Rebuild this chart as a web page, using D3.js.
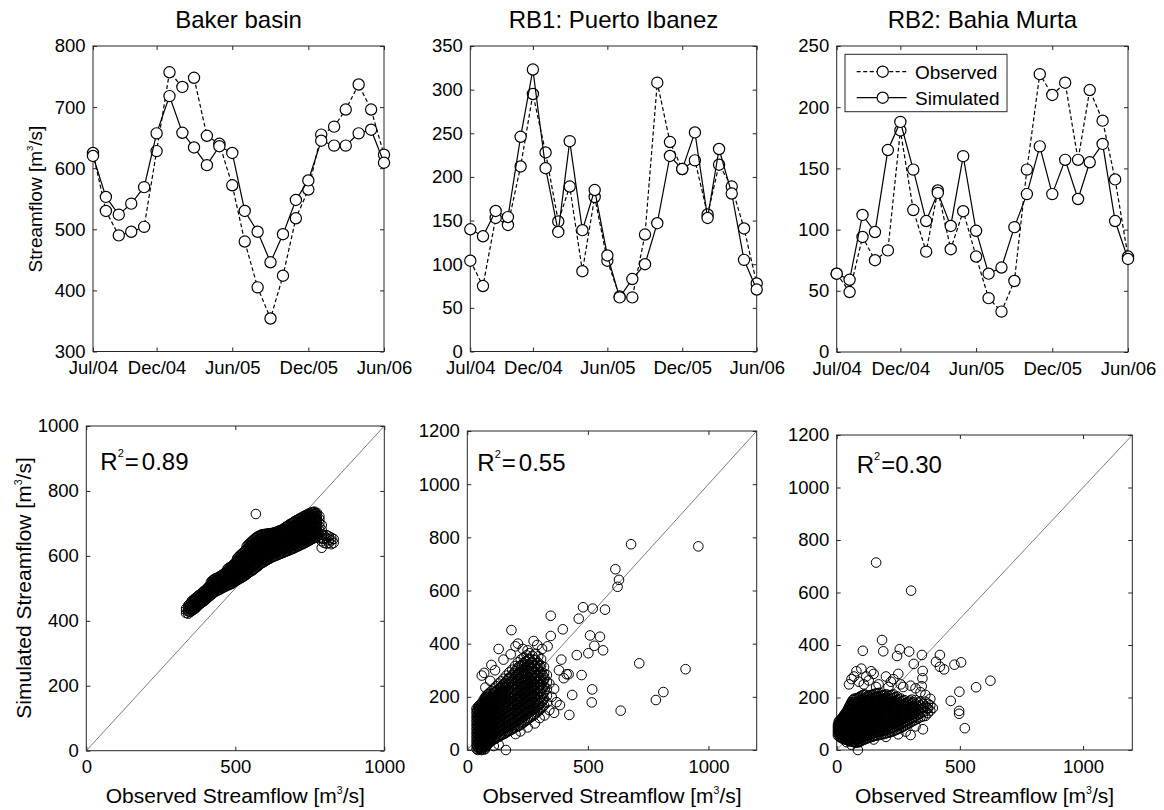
<!DOCTYPE html>
<html>
<head>
<meta charset="utf-8">
<script src="https://cdn.jsdelivr.net/npm/d3@7"></script>
<style>
  body { margin: 0; background: #fff; }
  text { font-family: "Liberation Sans", Arial, Helvetica, sans-serif; fill: #000; }
</style>
</head>
<body>
<svg id="chart" width="1164" height="810"></svg>
<script>
// ---- data ----
const months = ["2004-07","2004-08","2004-09","2004-10","2004-11","2004-12",
                "2005-01","2005-02","2005-03","2005-04","2005-05","2005-06",
                "2005-07","2005-08","2005-09","2005-10","2005-11","2005-12",
                "2006-01","2006-02","2006-03","2006-04","2006-05","2006-06"];
const timeTicks = ["2004-07","2004-12","2005-06","2005-12","2006-06"];

const bakerObs = [625,530,490,496,504,628,757,733,748,653,640,572,480,405,354,424,518,565,655,668,696,737,696,622];
const bakerSim = [620,553,524,542,569,657,718,658,634,605,636,625,530,496,446,492,548,580,645,637,637,657,663,609];
const rb1Obs = [104,75,153,145,212,295,228,149,189,92,177,104,63,62,134,308,240,209,219,157,214,189,141,78];
const rb1Sim = [140,132,161,154,246,323,210,137,241,139,185,110,62,83,100,147,224,209,251,153,232,181,105,71];
const rb2Obs = [64,49,94,75,83,181,116,82,132,84,115,78,44,33,58,149,227,210,220,157,214,189,141,78];
const rb2Sim = [64,59,112,98,165,188,149,107,130,103,160,99,64,69,102,129,168,129,157,125,155,170,107,76];

const titles = ["Baker basin", "RB1: Puerto Ibanez", "RB2: Bahia Murta"];
const bakerTicks = [300,400,500,600,700,800];
const rb1Ticks = [0,50,100,150,200,250,300,350];
const rb2Ticks = [0,50,100,150,200,250];

// scatter: daily observed vs simulated, [observed, [simulated values at that observed]]
const bakerCloud = [
  [335,[424,432,438]],[342,[422,430,441,447]],[350,[428,436,445,452]],
  [358,[433,441,450,458,463]],[366,[438,447,455,463,470]],[374,[446,452,461,468,476]],
  [382,[452,459,467,474,481]],[390,[458,465,473,480,488]],[398,[463,471,479,486,493]],
  [406,[470,477,485,493,501]],[414,[476,484,492,500,508]],[422,[482,490,499,507,516,523]],
  [430,[488,496,505,513,521,529]],[438,[492,500,509,517,525,532]],[446,[495,504,512,520,528,536]],
  [454,[500,508,516,524,532,540]],[462,[503,511,520,529,537,546]],[470,[507,515,524,533,542,551]],
  [478,[510,519,528,537,546,555,563]],[486,[513,522,531,541,550,559,567]],[494,[518,527,536,546,555,564,573]],
  [502,[523,532,542,552,561,571,581]],[510,[527,537,547,557,567,577,588,596]],[518,[531,541,551,562,572,582,593,603]],
  [526,[535,545,556,567,577,588,599,610]],[534,[540,550,561,572,583,594,605,616]],[542,[546,557,568,579,590,601,612,624,633]],
  [550,[551,562,573,584,596,607,618,630,640]],[558,[556,567,579,590,602,613,625,636,647]],[566,[561,572,584,596,607,619,631,642,654]],
  [574,[567,578,590,601,613,625,637,648,659]],[582,[573,584,595,607,619,630,642,653,663]],[590,[578,589,600,611,623,634,645,656,666]],
  [598,[582,593,604,615,626,637,648,658,667]],[606,[587,598,608,619,630,640,651,661,668]],[614,[591,601,612,622,633,643,653,662,669]],
  [622,[595,605,615,626,636,646,656,664,670]],[630,[598,608,618,628,638,648,658,666,672]],[638,[601,611,621,631,641,651,660,668,674]],
  [646,[604,614,624,634,644,654,663,671,677]],[654,[607,617,627,637,647,657,666,674,680]],[662,[610,620,630,640,650,660,669,677,684]],
  [670,[613,623,633,643,653,663,672,681,689]],[678,[616,626,636,646,656,666,676,685,694]],[686,[619,629,639,649,659,669,679,689,699]],
  [694,[622,632,642,652,662,672,682,692,703]],[702,[626,636,646,656,666,676,687,697,708]],[710,[629,639,649,659,670,680,691,701,712]],
  [718,[633,643,653,663,674,684,695,706,716]],[726,[636,646,656,667,677,688,699,710,720]],[734,[640,650,660,671,681,692,703,714,724]],
  [742,[644,654,664,675,686,697,708,719,728]],[750,[648,658,668,679,690,701,712,722,731]],[758,[652,662,672,683,694,705,716,726,734]],
  [766,[656,666,677,688,699,710,720,729,736]],[774,[660,671,682,693,704,714,724,732]],[782,[655,666,678,690,702,713,722]],
  [790,[645,655,665,680,695]],[798,[640,652,662]],[806,[638,655,664]],[814,[640,650,660]],[822,[636,648,656]],[830,[640,652]],
  [569,[729]],[790,[625]],
  [346,[427,436,444,451]],[354,[431,439,448,456,461]],[362,[436,444,452,460,467]],[370,[442,450,458,466,473]],
  [378,[449,456,464,471,479]],[386,[455,462,470,477,485]],[394,[460,468,476,483,491]],[402,[466,474,482,490,497]],
  [410,[473,481,489,497,505]],[418,[479,487,495,503,512,519]],[426,[485,493,502,510,518,526]],[434,[490,498,507,515,523,531]],
  [442,[494,502,510,518,526,534]],[450,[497,506,514,522,530,538]],[458,[502,510,518,527,535,543]],[466,[505,513,522,531,540,548]],
  [474,[509,517,526,535,544,553,560]],[482,[512,520,530,539,548,557,565]],[490,[515,524,534,543,552,561,570]],
  [498,[520,530,539,549,558,568,577]],[506,[525,535,545,555,564,574,584,592]],[514,[529,539,549,560,570,580,591,600]],
  [522,[533,543,554,565,575,586,596,607]],[530,[538,548,559,570,580,591,602,613]],[538,[543,554,565,576,587,598,609,620,629]],
  [546,[549,560,571,582,593,604,615,627,637]],[554,[553,565,576,587,599,610,622,633,644]],[562,[558,570,582,593,605,616,628,639,650]],
  [570,[564,575,587,599,610,622,634,645,657]],[578,[570,581,593,604,616,628,640,651,661]],[586,[576,587,598,609,621,632,644,655,665]],
  [594,[580,591,602,613,625,636,647,657,667]],[602,[585,596,606,617,628,639,650,660,668]],[610,[589,600,610,621,631,642,652,662,669]],
  [618,[593,603,614,624,634,645,655,663,670]],[626,[597,607,617,627,637,647,657,665,671]],[634,[600,610,620,630,640,650,659,667,673]],
  [642,[603,613,623,633,643,653,662,670,676]],[650,[606,616,626,636,646,656,665,673,679]],[658,[609,619,629,639,649,659,668,676,682]],
  [666,[612,622,632,642,652,662,671,679,687]],[674,[615,625,635,645,655,665,674,683,692]],[682,[618,628,638,648,658,668,678,687,697]],
  [690,[621,631,641,651,661,671,681,691,701]],[698,[624,634,644,654,664,674,685,695,706]],[706,[628,638,648,658,668,678,689,699,710]],
  [714,[631,641,651,661,672,682,693,704,714]],[722,[635,645,655,665,676,686,697,708,718]],[730,[638,648,658,669,679,690,701,712,722]],
  [738,[642,652,662,673,684,695,706,717,726]],[746,[646,656,666,677,688,699,710,721,730]],[754,[650,660,670,681,692,703,714,724,733]],
  [762,[654,664,675,686,697,708,718,728,735]],[770,[658,669,680,691,702,712,722,731]]
];

const rb1Cloud = [
  [38,[5,20,35,50,65,80,95,110,125,140,155]],[44,[0,12,28,42,58,72,88,102,118,132,148,162]],
  [50,[3,18,32,48,62,78,92,108,122,138,152,168]],[56,[8,22,38,52,68,82,98,112,128,142,158,172]],
  [62,[2,15,30,45,60,75,90,105,120,135,150,165,180]],[68,[10,25,40,55,70,85,100,115,130,145,160,175,190]],
  [74,[5,20,35,50,65,80,95,110,125,140,155,170,185,198]],[80,[15,30,45,60,75,90,105,120,135,150,165,180,195,205]],
  [86,[22,38,52,68,82,98,112,128,142,158,172,188,210]],[92,[30,45,60,75,90,105,120,135,150,165,180,195,215]],
  [100,[35,50,65,80,95,110,125,140,155,170,185,200,222]],[110,[40,58,75,92,110,128,145,162,180,198,215,232]],
  [120,[45,62,80,98,115,132,150,168,185,202,220,240]],[130,[50,68,86,104,122,140,158,176,194,212,230,250]],
  [140,[55,74,92,110,128,146,164,182,200,218,236,258]],[150,[60,78,97,116,135,154,172,190,208,226,246,268]],
  [162,[66,85,104,124,143,162,181,200,219,238,258,280]],[174,[72,92,112,132,152,172,192,212,232,252,272,292]],
  [186,[78,98,118,138,158,178,198,218,238,258,280,302]],[198,[84,105,126,147,168,189,210,231,252,274,296,316]],
  [210,[90,112,134,156,178,200,222,244,266,288,310,330]],[222,[96,118,140,162,184,206,228,250,272,294,318,340]],
  [234,[104,126,148,170,192,214,236,258,280,302,326,348]],[246,[112,134,156,178,200,222,244,266,288,310,334,356]],
  [258,[120,142,164,186,208,230,252,274,296,320,344,364]],[270,[128,150,172,194,216,238,260,282,306,330,354]],
  [282,[136,158,180,202,224,246,268,292,316,340,362]],[294,[146,168,190,212,234,256,280,304,328,352]],
  [306,[156,178,200,222,246,270,294,318,342]],[318,[168,192,216,240,264,288,312]],[330,[178,204,230,256,282]],
  [41,[12,28,42,58,72,88,102,118,132,148]],[47,[6,22,36,52,66,82,96,112,126,142,158]],
  [53,[10,25,40,55,70,85,100,115,130,145,160]],[59,[0,14,30,44,60,74,90,104,120,134,150,165]],
  [65,[8,22,38,52,68,82,98,112,128,142,158,172]],[71,[2,16,32,46,62,76,92,106,122,136,152,166,180]],
  [77,[12,28,42,58,72,88,102,118,132,148,162,178,192]],[83,[20,36,50,66,80,96,110,126,140,156,170,186,200]],
  [89,[28,42,58,72,88,102,118,132,148,162,178,195]],[96,[32,48,62,78,92,108,122,138,152,168,182,200]],
  [105,[38,55,72,88,105,120,138,155,172,190,208]],[115,[42,60,78,95,112,130,148,165,182,200,218]],
  [125,[48,66,84,100,118,136,154,172,190,208,225]],[135,[52,70,88,106,124,142,160,178,196,214,232]],
  [145,[58,76,94,112,130,150,168,186,204,222,242]],[156,[62,82,100,120,140,158,176,196,214,234,252]],
  [168,[70,88,108,128,148,168,186,206,226,246,266]],[180,[75,95,115,135,155,175,195,215,235,255,275]],
  [192,[82,102,122,142,164,184,204,224,246,266,288]],[204,[88,108,130,150,172,194,216,238,260,282,302]],
  [216,[92,115,136,158,180,202,225,248,270,292,315]],[228,[100,122,144,166,188,210,232,254,276,298,320]],
  [240,[108,130,152,174,196,218,240,262,286,310,332]],[252,[116,138,160,182,204,226,248,270,292,316,340]],
  [264,[124,146,168,190,212,234,256,280,304,328]],[276,[132,154,176,198,220,242,266,290,314,338]],
  [288,[142,164,186,208,230,254,278,302,326]],[300,[150,172,196,220,244,268,292,316]],
  [312,[162,186,210,234,258,282]],
  [60,[280]],[70,[290]],[75,[235]],[95,[260]],[100,[320]],[115,[300]],[130,[380]],[150,[340]],[180,[360]],
  [183,[451]],[200,[390]],[210,[400]],[230,[380]],[250,[375]],[275,[410]],[290,[395]],[310,[380]],
  [300,[120,260]],[320,[130,270]],[333,[390]],[340,[150,250]],[346,[429,505]],[350,[200]],[360,[140,230]],
  [370,[180]],[380,[300]],[384,[169]],[390,[340]],[396,[454]],[400,[270]],[412,[285]],[420,[285]],
  [423,[132]],[435,[207]],[454,[357]],[462,[494]],[474,[282]],[480,[537]],[502,[364]],[509,[431]],
  [516,[179]],[518,[228]],[520,[532]],[527,[392]],[550,[426]],[563,[375]],[571,[528]],[614,[680]],
  [623,[614]],[629,[640]],[636,[148]],[679,[774]],[713,[326]],[782,[188]],[813,[218]],[905,[304]],[958,[766]],
  [110,[15]],[130,[20]],[160,[0]],[200,[60]],[220,[70]],[250,[85]],[280,[100]]
];

const rb2Cloud = [
  [5,[55,65,75,85,95]],[12,[50,60,70,80,90,100,112]],[20,[45,55,66,76,86,96,108,120]],
  [28,[42,52,63,74,85,96,107,118,130]],[36,[40,50,61,72,83,94,105,116,128,140]],
  [44,[38,48,59,70,81,92,103,115,127,140,152]],[52,[35,46,57,68,80,92,104,116,128,141,155,168]],
  [60,[32,44,56,68,80,92,104,116,129,142,156,170,182]],[70,[30,42,54,66,78,90,102,114,127,140,154,168,182,195]],
  [80,[28,40,52,64,76,88,100,112,125,138,152,166,180,196]],[90,[30,42,54,66,78,90,102,115,128,141,155,169,184,200]],
  [100,[35,47,59,71,83,95,108,121,134,148,162,177,192,206]],[112,[40,52,64,76,88,100,113,126,139,153,167,182,198,212]],
  [124,[45,57,69,81,93,106,119,132,146,160,174,189,204]],[136,[48,60,72,84,96,109,122,135,149,163,178,193,208]],
  [148,[52,64,76,88,100,113,126,140,154,168,183,198,212]],[160,[55,67,79,91,103,116,129,143,157,171,186,200,215]],
  [174,[58,70,82,95,108,121,134,148,162,176,190,205,218]],[188,[60,73,86,99,112,125,138,152,166,180,194,208]],
  [202,[64,77,90,103,116,129,142,156,170,184,198,212]],[216,[68,82,96,110,124,138,152,166,180,194,208]],
  [230,[72,86,100,114,128,142,156,170,184,198,212]],[245,[78,92,106,120,134,148,162,176,190,204]],
  [260,[84,98,112,126,140,154,168,182,196]],[275,[92,106,120,134,148,162,176,190]],
  [290,[100,114,128,142,156,170,184]],[305,[108,122,136,150,164,178,192]],[320,[115,130,145,160,175,190]],
  [340,[125,140,155,170,185]],[360,[130,148,166,184]],[380,[150,170]],
  [8,[60,70,80,90,100,108]],[16,[48,58,68,78,88,98,110]],[24,[44,54,64,75,86,97,108,120,125]],
  [32,[41,51,62,73,84,95,106,117,129,135]],[40,[39,49,60,71,82,93,104,115,127,139,146]],
  [48,[36,47,58,69,80,92,104,116,128,140,152,160]],[56,[34,45,56,68,80,92,104,116,128,141,155,168,175]],
  [65,[31,43,55,67,79,91,103,115,128,141,155,169,182,190]],[75,[29,41,53,65,77,89,101,113,126,139,153,167,181,195]],
  [85,[29,41,53,65,77,89,101,114,127,140,154,168,182,198]],[95,[32,44,56,68,80,92,105,118,131,144,158,172,188,203]],
  [106,[38,50,62,74,86,98,111,124,137,151,165,180,195,209]],[118,[42,54,66,78,90,103,116,129,142,156,170,185,200,210]],
  [130,[46,58,70,82,94,107,120,133,147,161,176,191,206]],[142,[50,62,74,86,98,111,124,138,152,166,180,195,210]],
  [154,[54,66,78,90,102,115,128,142,156,170,185,200,214]],[167,[56,68,80,93,106,119,132,146,160,174,188,202,216]],
  [181,[59,72,85,98,111,124,137,151,165,179,193,207]],[195,[62,75,88,101,114,127,140,154,168,182,196,210]],
  [209,[66,80,94,108,122,136,150,164,178,192,206]],[223,[70,84,98,112,126,140,154,168,182,196,210]],
  [238,[75,89,103,117,131,145,159,173,187,201]],[252,[81,95,109,123,137,151,165,179,193]],
  [268,[88,102,116,130,144,158,172,186]],[283,[96,110,124,138,152,166,180]],[298,[104,118,132,146,160,174,188]],
  [312,[112,126,140,154,168,182]],[330,[120,135,150,165,180]],[350,[128,144,160,176]],[370,[140,158,176]],
  [50,[250]],[60,[270,20]],[70,[280]],[80,[300]],[100,[310]],[106,[378]],[90,[260]],[110,[250]],
  [120,[280]],[130,[265]],[140,[300]],[150,[290,40]],[160,[240,714]],[170,[250]],[184,[419]],[189,[376]],
  [200,[280,50]],[210,[240]],[220,[260]],[230,[270]],[245,[358]],[250,[290,60]],[256,[384]],[260,[250]],
  [270,[240]],[280,[70]],[294,[375]],[300,[245,57]],[302,[607]],[313,[328]],[320,[235,90]],[340,[220]],
  [345,[243]],[346,[362]],[348,[273]],[349,[301]],[350,[79]],[360,[210]],[368,[160]],[380,[195]],
  [390,[160]],[403,[336]],[419,[317,362]],[436,[307]],[463,[187]],[478,[325]],[497,[138,149]],
  [498,[222]],[505,[334]],[520,[83]],[566,[239]],[624,[264]],[40,[30]],[86,[0]]
];

const r2Labels = ["0.89", "0.55", "0.30"];
const scatterMax = [1000, 1200, 1200];
const scatterXTicks = [0, 500, 1000];
const bakerScatTicks = [0,200,400,600,800,1000];
const rbScatTicks = [0,200,400,600,800,1000,1200];

// ---- layout ----
const topBoxes = [
  {x0: 93, x1: 384, y0: 46, y1: 351.5},
  {x0: 470.3, x1: 756.7, y0: 46, y1: 351.5},
  {x0: 836.7, x1: 1128, y0: 46, y1: 352}
];
const botBoxes = [
  {x0: 86.3, x1: 384.3, y0: 426, y1: 750.7, lx: 14, ly: 44},
  {x0: 467.3, x1: 756.7, y0: 431, y1: 750, lx: 10, ly: 40},
  {x0: 836.7, x1: 1132.3, y0: 435, y1: 750, lx: 20, ly: 38}
];

const svg = d3.select("#chart");
const parse = d3.timeParse("%Y-%m");
const fmt = d3.timeFormat("%b/%y");
const TICK = 18.5;
const frameColor = "#262626";

function frame(g, b) {
  g.append("rect").attr("x", b.x0).attr("y", b.y0)
    .attr("width", b.x1 - b.x0).attr("height", b.y1 - b.y0)
    .attr("fill", "none").attr("stroke", frameColor).attr("stroke-width", 1);
}

function styleAxis(sel) {
  sel.select(".domain").remove();
  sel.selectAll(".tick line").attr("stroke", frameColor);
  sel.selectAll("text").attr("font-size", TICK).attr("fill", "#000");
}

function drawAxes(g, b, x, y, xTicks, yTicks, xFormat) {
  g.append("g").attr("transform", `translate(0,${b.y1})`)
    .call(d3.axisBottom(x).tickValues(xTicks).tickFormat(xFormat).tickSize(-4).tickPadding(9.5))
    .call(styleAxis);
  g.append("g").attr("transform", `translate(0,${b.y0})`)
    .call(d3.axisTop(x).tickValues(xTicks).tickFormat("").tickSize(-4))
    .call(styleAxis);
  g.append("g").attr("transform", `translate(${b.x0},0)`)
    .call(d3.axisLeft(y).tickValues(yTicks).tickFormat(d3.format("d")).tickSize(-4).tickPadding(7.5))
    .call(styleAxis);
  g.append("g").attr("transform", `translate(${b.x1},0)`)
    .call(d3.axisRight(y).tickValues(yTicks).tickFormat("").tickSize(-4))
    .call(styleAxis);
  g.selectAll("g").attr("font-family", null);
  frame(g, b);
}

// ---- top row: monthly time series ----
const series = [[bakerObs, bakerSim, bakerTicks], [rb1Obs, rb1Sim, rb1Ticks], [rb2Obs, rb2Sim, rb2Ticks]];
const dates = months.map(parse);

series.forEach(([obs, sim, yt], i) => {
  const b = topBoxes[i];
  const g = svg.append("g");
  const x = d3.scaleTime().domain([dates[0], dates[dates.length - 1]]).range([b.x0, b.x1]);
  const y = d3.scaleLinear().domain([yt[0], yt[yt.length - 1]]).range([b.y1, b.y0]);
  drawAxes(g, b, x, y, timeTicks.map(parse), yt, fmt);

  const line = d3.line().x((d, j) => x(dates[j])).y(d => y(d));
  [[obs, "4,2.5"], [sim, null]].forEach(([vals, dash]) => {
    g.append("path").datum(vals).attr("d", line)
      .attr("fill", "none").attr("stroke", "#000").attr("stroke-width", 1.2)
      .attr("stroke-dasharray", dash);
    g.selectAll(null).data(vals).enter().append("circle")
      .attr("cx", (d, j) => x(dates[j])).attr("cy", d => y(d)).attr("r", 5.6)
      .attr("fill", "#fff").attr("stroke", "#000").attr("stroke-width", 1.2);
  });

  svg.append("text").attr("x", (b.x0 + b.x1) / 2).attr("y", 28)
    .attr("text-anchor", "middle").attr("font-size", 24).text(titles[i]);
});

// units label helper: "... [m^3/s]"
function unitsLabel(sel, prefix, size) {
  sel.append("tspan").text(prefix + " [m");
  sel.append("tspan").attr("font-size", size * 0.5).attr("dy", -size * 0.45).text("3");
  sel.append("tspan").attr("dy", size * 0.45).text("/s]");
}

svg.append("text").attr("transform", "translate(42,199) rotate(-90)")
  .attr("text-anchor", "middle").attr("font-size", 19)
  .call(unitsLabel, "Streamflow", 19);

// legend (in third panel)
const lg = svg.append("g");
lg.append("rect").attr("x", 845).attr("y", 54.3).attr("width", 162).attr("height", 57.4)
  .attr("fill", "#fff").attr("stroke", frameColor).attr("stroke-width", 1);
[["Observed", "4,2.5", 71.7], ["Simulated", null, 97.7]].forEach(([name, dash, ly]) => {
  lg.append("line").attr("x1", 856.7).attr("x2", 906.7).attr("y1", ly).attr("y2", ly)
    .attr("stroke", "#000").attr("stroke-width", 1.2).attr("stroke-dasharray", dash);
  lg.append("circle").attr("cx", 882.7).attr("cy", ly).attr("r", 5.6)
    .attr("fill", "#fff").attr("stroke", "#000").attr("stroke-width", 1.2);
  lg.append("text").attr("x", 915).attr("y", ly).attr("dy", "0.36em")
    .attr("font-size", 19).text(name);
});

// ---- bottom row: scatter ----
const clouds = [bakerCloud, rb1Cloud, rb2Cloud];
clouds.forEach((cloud, i) => {
  const b = botBoxes[i];
  const g = svg.append("g");
  const m = scatterMax[i];
  const x = d3.scaleLinear().domain([0, m]).range([b.x0, b.x1]);
  const y = d3.scaleLinear().domain([0, m]).range([b.y1, b.y0]);
  drawAxes(g, b, x, y, scatterXTicks, i === 0 ? bakerScatTicks : rbScatTicks, d3.format("d"));

  g.append("line").attr("x1", x(0)).attr("y1", y(0)).attr("x2", x(m)).attr("y2", y(m))
    .attr("stroke", "#444").attr("stroke-width", 0.7);

  const pts = cloud.flatMap(([o, sims]) => sims.map(s => [o, s]));
  g.selectAll(null).data(pts).enter().append("circle")
    .attr("cx", d => x(d[0])).attr("cy", d => y(d[1])).attr("r", 4.8)
    .attr("fill", "none").attr("stroke", "#000").attr("stroke-width", 1);

  const t = g.append("text").attr("x", b.x0 + b.lx).attr("y", b.y0 + b.ly).attr("font-size", 24);
  t.append("tspan").text("R");
  t.append("tspan").attr("font-size", 11).attr("dy", -13).text("2");
  t.append("tspan").attr("dy", 13).attr("dx", 1).text("=");
  t.append("tspan").attr("dx", i === 2 ? 0 : 3).text(r2Labels[i]);

  svg.append("text").attr("x", (b.x0 + b.x1) / 2).attr("y", 803)
    .attr("text-anchor", "middle").attr("font-size", 21)
    .call(unitsLabel, "Observed Streamflow", 21);
});

svg.append("text").attr("transform", "translate(31,588) rotate(-90)")
  .attr("text-anchor", "middle").attr("font-size", 21)
  .call(unitsLabel, "Simulated Streamflow", 21);
</script>
</body>
</html>
